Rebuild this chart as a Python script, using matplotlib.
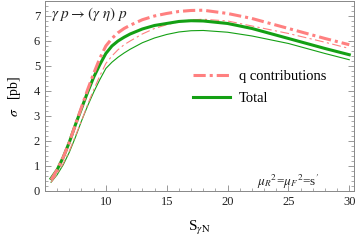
import matplotlib
matplotlib.use("Agg")
import matplotlib.pyplot as plt
from matplotlib.ticker import MultipleLocator

plt.rcParams['font.family'] = ['Liberation Serif', 'DejaVu Serif']
plt.rcParams['mathtext.fontset'] = 'stix'

s = [5.5, 6, 6.5, 7, 7.5, 8, 8.5, 9, 9.5, 10, 10.5, 11, 11.5, 12, 13, 14, 15, 16, 17, 18, 20, 22, 25, 28, 30]

q_thick = [0.45, 0.85, 1.35, 1.95, 2.65, 3.35, 4.05, 4.7, 5.3, 5.8, 6.1, 6.33, 6.5, 6.63, 6.85, 7.0, 7.1, 7.18, 7.22, 7.23, 7.1, 6.9, 6.5, 6.1, 5.85]
q_thin = [0.35, 0.68, 1.1, 1.6, 2.2, 2.8, 3.45, 4.05, 4.6, 5.1, 5.4, 5.65, 5.85, 6.0, 6.28, 6.5, 6.65, 6.77, 6.84, 6.87, 6.8, 6.6, 6.3, 5.95, 5.7]
tot_thick = [0.5, 0.85, 1.35, 1.95, 2.65, 3.3, 3.95, 4.55, 5.05, 5.5, 5.8, 6.0, 6.15, 6.28, 6.48, 6.62, 6.7, 6.78, 6.81, 6.8, 6.7, 6.5, 6.1, 5.7, 5.45]
tot_thin = [0.35, 0.65, 1.05, 1.55, 2.15, 2.8, 3.4, 3.95, 4.45, 4.9, 5.15, 5.35, 5.52, 5.67, 5.93, 6.12, 6.26, 6.36, 6.41, 6.42, 6.35, 6.2, 5.9, 5.5, 5.25]

red = '#ff8080'
green = '#14a014'
frame = '#888888'

fig = plt.figure(figsize=(3.57, 2.43), dpi=100)
ax = fig.add_axes([0.126, 0.214, 0.866, 0.782])

ax.plot(s, tot_thin, color=green, lw=0.8)
ax.plot(s, q_thin, color=red, lw=0.8, dashes=(8, 3, 2, 3))
ax.plot(s, tot_thick, color=green, lw=2.2, label='Total')
ax.plot(s, q_thick, color=red, lw=2.2, dashes=(4, 1.3, 1, 1.3), label='q contributions')

ax.set_xlim(5, 30.4)
ax.set_ylim(0, 7.6)
ax.xaxis.set_minor_locator(MultipleLocator(1))
ax.yaxis.set_major_locator(MultipleLocator(1))
ax.yaxis.set_minor_locator(MultipleLocator(0.2))
ax.set_xticks([10, 15, 20, 25, 30])
ax.tick_params(which='both', direction='in', top=False, right=True, colors=frame,
               labelcolor='#222222', labelsize=9)
ax.tick_params(which='major', length=4, width=0.6)
ax.tick_params(which='minor', length=2, width=0.5)
for sp in ax.spines.values():
    sp.set_color(frame)
    sp.set_linewidth(0.7)

ax.set_xlabel(r'S$_{\gamma\mathrm{N}}$', fontsize=11, labelpad=8)
ax.set_ylabel(r'$\sigma$   [pb]', fontsize=10, labelpad=8)

ax.text(0.02, 0.93, r'$\gamma\ p \rightarrow (\gamma\ \eta)\ p$', transform=ax.transAxes,
        fontsize=11, va='center', ha='left', color='#222222')
ax.text(0.785, 0.045, r'$\mu_R{}^2$=$\mu_F{}^2$=s$^{\prime}$', transform=ax.transAxes,
        fontsize=9.5, va='center', ha='center', color='#222222')

h, l = ax.get_legend_handles_labels()
ax.legend(h[::-1], l[::-1], loc='center left', bbox_to_anchor=(0.437, 0.545), frameon=False,
          fontsize=10.5, handlelength=2.5, handletextpad=0.65, labelspacing=0.6)

fig.savefig('out.png', dpi=100)
